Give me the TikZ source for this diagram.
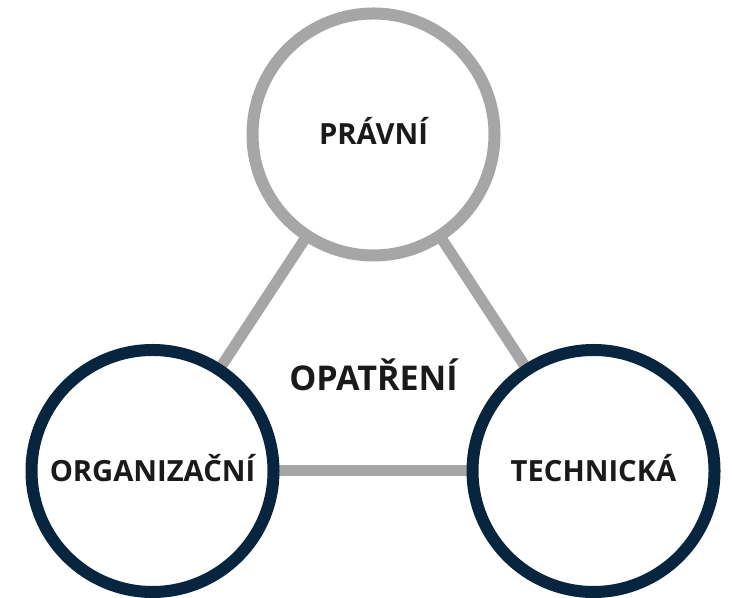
\documentclass[tikz,border=0pt]{standalone}
\usepackage{fontspec}
\setmainfont{Open Sans}
\usepackage{xcolor}
\usepackage{tikz}
\usetikzlibrary{backgrounds}

\definecolor{ringgray}{HTML}{A6A6A6}
\definecolor{ringnavy}{HTML}{07253F}
\definecolor{textblack}{HTML}{1A1A1A}

\begin{document}
\begin{tikzpicture}[
    ring/.style = {circle, draw = #1, fill = white, line width = 0.24cm,
      minimum size = 4.84cm, inner sep = 0pt, text = textblack,
      font = \fontsize{16.6}{16.6}\selectfont\bfseries,
      text height = 11.8pt, text depth = 0pt},
    link/.style = {draw = ringgray, line width = 0.22cm}
  ]
    \useasboundingbox (0, 0) rectangle (14.64, 11.96);

    \node[ring = ringgray] (pravni) at (7.47, 9.27) {PRÁVNÍ};
    \node[ring = ringnavy] (organizacni) at (3.05, 2.54) {ORGANIZAČNÍ};
    \node[ring = ringnavy] (technicka) at (11.87, 2.54) {TECHNICKÁ};
    \node[text = textblack, font = \fontsize{19.4}{19.4}\selectfont\bfseries,
      text height = 13.8pt, text depth = 0pt, inner sep = 0pt]
      (opatreni) at (7.47, 4.39) {OPATŘENÍ};

    \begin{scope}[on background layer]
      \draw[link] (pravni.center) -- (organizacni.center);
      \draw[link] (pravni.center) -- (technicka.center);
      \draw[link] (organizacni.center) -- (technicka.center);
    \end{scope}
  \end{tikzpicture}
\end{document}
